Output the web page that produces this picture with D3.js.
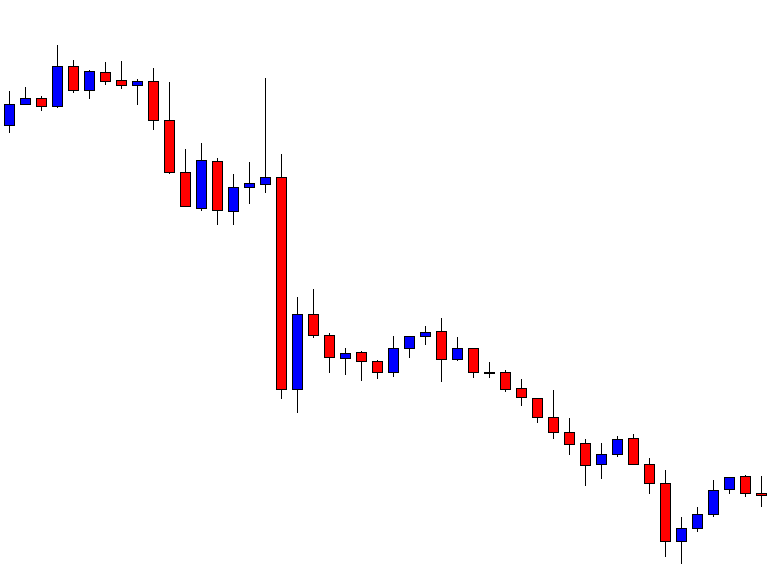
<!DOCTYPE html>
<html>
<head>
<meta charset="utf-8">
<script src="https://cdn.jsdelivr.net/npm/d3@7"></script>
<style>
  html, body { margin: 0; padding: 0; background: #ffffff; }
  svg { display: block; }
</style>
</head>
<body>
<script>
// Candle data (price units)
const opens  = [1.2975,1.2996,1.3002,1.2994,1.3034,1.3010,1.3028,1.3020,1.3015,1.3019,1.2980,1.2928,1.2892,1.2939,1.2889,1.2913,1.2916,1.2923,1.2711,1.2786,1.2765,1.2742,1.2748,1.2739,1.2728,1.2752,1.2764,1.2769,1.2741,1.2752,1.2728,1.2728,1.2712,1.2702,1.2683,1.2668,1.2657,1.2636,1.2646,1.2662,1.2636,1.2617,1.2559,1.2572,1.2586,1.2611,1.2624,1.2607];
const highs  = [1.3009,1.3013,1.3004,1.3055,1.3040,1.3030,1.3038,1.3039,1.3021,1.3032,1.3018,1.2951,1.2957,1.2942,1.2926,1.2938,1.3022,1.2946,1.2803,1.2811,1.2767,1.2752,1.2749,1.2740,1.2764,1.2764,1.2774,1.2782,1.2763,1.2752,1.2738,1.2730,1.2721,1.2702,1.2710,1.2682,1.2661,1.2657,1.2664,1.2666,1.2642,1.2630,1.2583,1.2593,1.2620,1.2623,1.2625,1.2624];
const lows   = [1.2968,1.2996,1.2990,1.2993,1.3008,1.3002,1.3016,1.3012,1.2996,1.2971,1.2927,1.2894,1.2890,1.2876,1.2876,1.2897,1.2908,1.2702,1.2688,1.2763,1.2728,1.2726,1.2720,1.2722,1.2724,1.2743,1.2756,1.2719,1.2740,1.2723,1.2723,1.2709,1.2695,1.2678,1.2662,1.2646,1.2615,1.2622,1.2644,1.2636,1.2607,1.2544,1.2537,1.2569,1.2584,1.2607,1.2604,1.2594];
const closes = [1.2996,1.3002,1.2994,1.3034,1.3010,1.3029,1.3019,1.3015,1.3019,1.2980,1.2928,1.2894,1.2940,1.2890,1.2913,1.2917,1.2923,1.2711,1.2786,1.2765,1.2743,1.2747,1.2739,1.2728,1.2752,1.2764,1.2768,1.2741,1.2752,1.2728,1.2727,1.2711,1.2703,1.2683,1.2668,1.2656,1.2635,1.2646,1.2661,1.2636,1.2617,1.2559,1.2572,1.2586,1.2610,1.2623,1.2607,1.2605];
const bars = d3.range(opens.length);

const W = 784, H = 572;
const upColor = "#0000ff", downColor = "#ff0000";

const data = bars.map(i => ({i, o: opens[i], h: highs[i], l: lows[i], c: closes[i]}));

const svg = d3.select("body").append("svg").attr("width", W).attr("height", H);
svg.append("rect").attr("width", W).attr("height", H).attr("fill", "#fff");

const x = d3.scalePoint().domain(bars).range([9, 9 + 16 * (bars.length - 1)]);
const y = d3.scaleLinear().domain([1.25, 1.31]).range([600, 0]);
const py = v => Math.round(y(v));

const g = svg.append("g");
const candle = g.selectAll("g.c").data(data).join("g").attr("class", "c");

candle.append("line")
  .attr("x1", d => x(d.i) + 0.5).attr("x2", d => x(d.i) + 0.5)
  .attr("y1", d => py(d.h)).attr("y2", d => py(d.l) + 1)
  .attr("stroke", "#000").attr("stroke-width", 1);

candle.append("rect")
  .attr("x", d => x(d.i) - 4.5)
  .attr("y", d => Math.min(py(d.o), py(d.c)) + 0.5)
  .attr("width", 10)
  .attr("height", d => Math.abs(py(d.o) - py(d.c)))
  .attr("fill", d => d.c > d.o ? upColor : downColor)
  .attr("stroke", "#000").attr("stroke-width", 1);
</script>
</body>
</html>
